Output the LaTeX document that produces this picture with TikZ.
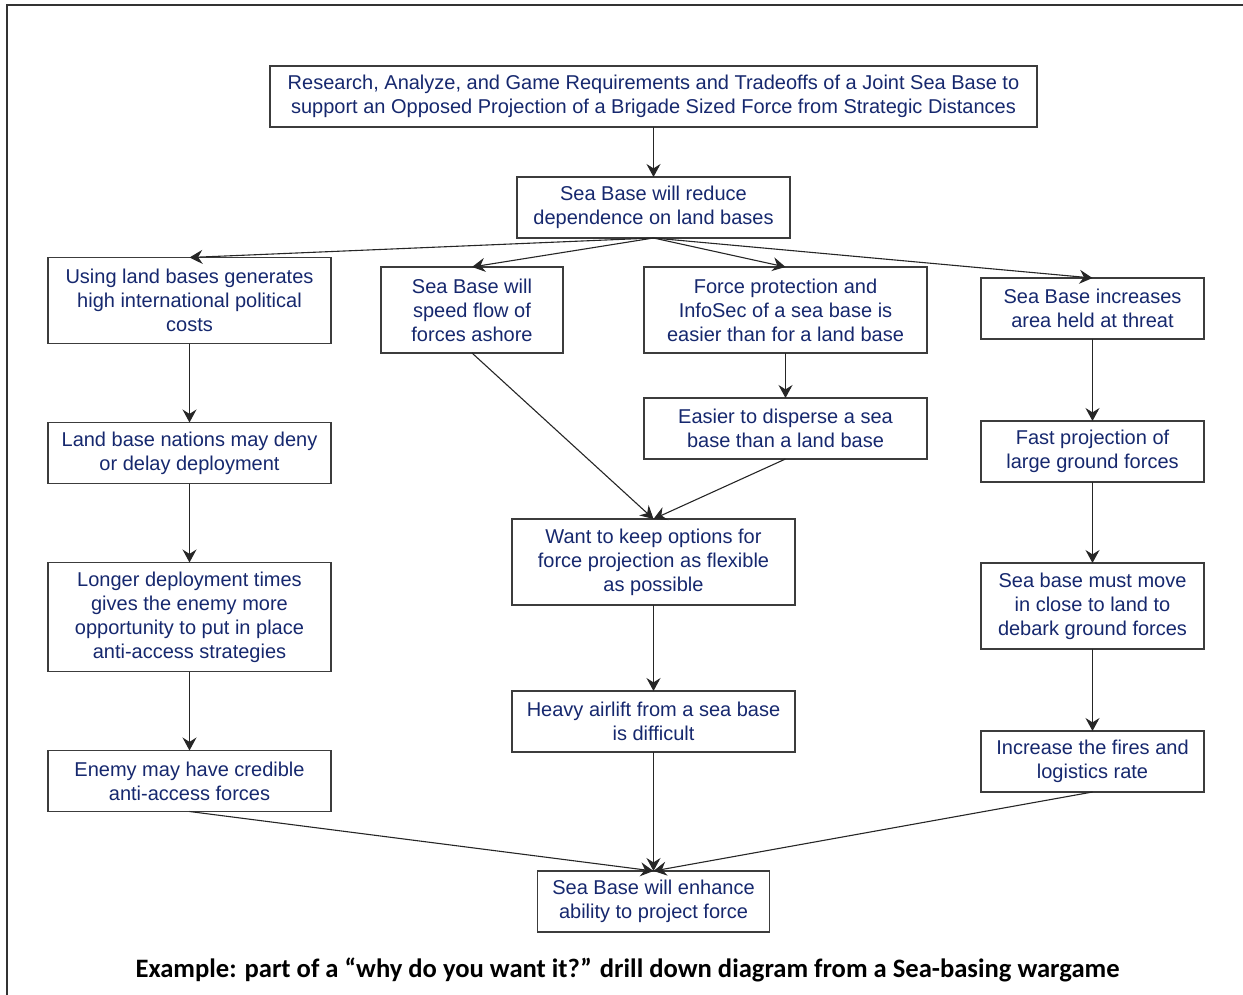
\documentclass[tikz,border=0pt]{standalone}
\usepackage{fontspec}
\setmainfont{Liberation Sans}
\newfontfamily\capfont{Carlito}
\usepackage{xcolor}
\definecolor{navytext}{RGB}{22,40,110}
\definecolor{boxline}{RGB}{60,60,60}
\usetikzlibrary{arrows.meta,positioning}

\begin{document}
\begin{tikzpicture}[
    x=0.5pt, y=0.5pt,
    box/.style={rectangle, draw=boxline, line width=0.6pt, fill=white,
                align=center, text=navytext, inner sep=2pt, outer sep=0pt,
                font=\fontsize{10}{12}\selectfont,
                minimum height=30.5pt},
    colA/.style={box, minimum width=141.5pt},
    colD/.style={box, minimum width=111.5pt},
    arr/.style={-{Stealth[length=6.5pt, width=7pt, inset=2.2pt]}, line width=0.55pt, black!85},
  ]
    \useasboundingbox (0,0) rectangle (1243,-995);
    % frame
    \draw[line width=1pt, black!80] (7,-995) -- (7,-5) -- (1243,-5);

    \node[box, minimum width=383.5pt] (top) at (653.5,-96.5)
      {Research, Analyze, and Game Requirements and Tradeoffs of a Joint Sea Base to\\support an Opposed Projection of a Brigade Sized Force from Strategic Distances};
    \node[box, minimum width=136.5pt, below=25pt of top] (reduce)
      {Sea Base will reduce\\dependence on land bases};

    % first row
    \node[colA, minimum height=43pt] (costs) at (189.5,-300.5)
      {Using land bases generates\\high international political\\costs};
    \node[box, minimum width=91pt, minimum height=43pt] (speed) at (472,-310)
      {Sea Base will\\speed flow of\\forces ashore};
    \node[colA, minimum height=43pt] (protect) at (785.5,-310)
      {Force protection and\\InfoSec of a sea base is\\easier than for a land base};
    \node[colD] (area) at (1092.5,-308.5)
      {Sea Base increases\\area held at threat};

    % left column
    \node[colA, below=39.5pt of costs] (deny) {Land base nations may deny\\or delay deployment};
    \node[colA, minimum height=54.5pt, below=39.5pt of deny] (longer)
      {Longer deployment times\\gives the enemy more\\opportunity to put in place\\anti-access strategies};
    \node[colA, below=39.5pt of longer] (enemy) {Enemy may have credible\\anti-access forces};

    % middle
    \node[colA, below=22.5pt of protect] (disperse) {Easier to disperse a sea\\base than a land base};
    \node[colA, minimum height=43pt] (options) at (653.5,-562)
      {Want to keep options for\\force projection as flexible\\as possible};
    \node[colA, below=43pt of options] (airlift) {Heavy airlift from a sea base\\is difficult};
    \node[box, minimum width=116pt, below=59.5pt of airlift] (enhance)
      {Sea Base will enhance\\ability to project force};

    % right column
    \node[colD, below=41pt of area] (fastproj) {Fast projection of\\large ground forces};
    \node[colD, minimum height=43pt, below=40.5pt of fastproj] (movein)
      {Sea base must move\\in close to land to\\debark ground forces};
    \node[colD, below=41pt of movein] (fires) {Increase the fires and\\logistics rate};

    \draw[arr] (top) -- (reduce);
    \draw[arr] (reduce.south) -- (costs.north);
    \draw[arr] (reduce.south) -- (speed.north);
    \draw[arr] (reduce.south) -- (protect.north);
    \draw[arr] (reduce.south) -- (area.north);
    \draw[arr] (costs) -- (deny);
    \draw[arr] (deny) -- (longer);
    \draw[arr] (longer) -- (enemy);
    \draw[arr] (protect) -- (disperse);
    \draw[arr] (speed.south) -- (options.north);
    \draw[arr] (disperse.south) -- (options.north);
    \draw[arr] (options) -- (airlift);
    \draw[arr] (area) -- (fastproj);
    \draw[arr] (fastproj) -- (movein);
    \draw[arr] (movein) -- (fires);
    \draw[arr] (enemy.south) -- (enhance.north);
    \draw[arr] (airlift.south) -- (enhance.north);
    \draw[arr] (fires.south) -- (enhance.north);

    \node[font=\capfont\bfseries\fontsize{13.3}{16}\selectfont] (caption) at (627.5,-970)
      {Example: part of a “why do you want it?” drill down diagram from a Sea-basing wargame};
\end{tikzpicture}
\end{document}
